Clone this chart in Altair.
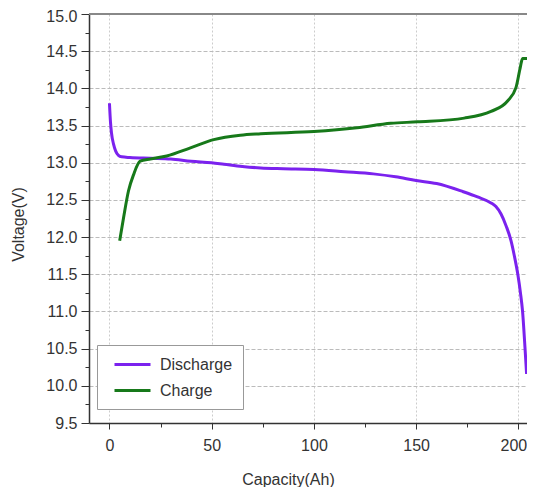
import altair as alt
import pandas as pd

# Discharge curve (Capacity Ah, Voltage V)
dis_x = [0, 0.5, 1, 2, 3, 4.4, 6, 10, 20, 30, 40, 50, 56, 65, 74, 85, 100, 115, 129,
         140, 150, 160, 173, 180, 186.6, 189, 191.5, 194, 196.4, 198, 199.7, 201, 202, 203.2, 204]
dis_y = [13.80, 13.55, 13.40, 13.25, 13.16, 13.10, 13.08, 13.07, 13.06, 13.05, 13.02, 13.00, 12.98,
         12.95, 12.93, 12.92, 12.91, 12.88, 12.85, 12.81, 12.76, 12.72, 12.61, 12.54, 12.46, 12.41,
         12.31, 12.15, 11.95, 11.75, 11.50, 11.25, 11.01, 10.52, 10.16]

# Charge curve
chg_x = [5, 6.9, 9.3, 11.8, 15, 20, 28, 39.6, 51, 64, 74, 100, 121, 137.6, 150.7, 173.5,
         186.6, 194.7, 198.8, 200.9, 202, 205.2]
chg_y = [11.95, 12.26, 12.62, 12.84, 13.02, 13.05, 13.09, 13.20, 13.31, 13.37, 13.39, 13.42,
         13.47, 13.53, 13.55, 13.60, 13.69, 13.83, 14.01, 14.28, 14.40, 14.40]

series = ["Discharge", "Charge"]
colors = ["#7B22EE", "#17791A"]

x_ticks = [0, 25, 50, 75, 100, 125, 150, 175, 200]
y_major = [9.5, 10.0, 10.5, 11.0, 11.5, 12.0, 12.5, 13.0, 13.5, 14.0, 14.5, 15.0]
y_minor = [9.75, 10.25, 10.75, 11.25, 11.75, 12.25, 12.75, 13.25, 13.75, 14.25, 14.75]

df = pd.concat([
    pd.DataFrame({"cap": dis_x, "volt": dis_y, "series": "Discharge"}),
    pd.DataFrame({"cap": chg_x, "volt": chg_y, "series": "Charge"}),
])

FONT = "Liberation Sans"

x_axis = alt.Axis(
    values=x_ticks, labelOverlap=False,
    labelExpr="datum.value % 50 == 0 ? format(datum.value, 'd') : ''",
    title="Capacity(Ah)", titleX=199, titleY=56, titleBaseline="middle",
    titleFont=FONT, titleFontSize=16, titleFontWeight="normal", titleColor="#333",
    labelFont=FONT, labelFontSize=16, labelColor="#333", labelPadding=8,
    labelOffset={"condition": {"test": "datum.value == 200", "value": -5}, "value": 0},
    tickSize={"condition": {"test": "datum.value % 50 != 0", "value": 4}, "value": 6},
    tickColor="#333", domainColor="#333", domainWidth=1.5,
    grid=True, gridColor="#cccccc", gridDash=[2, 2],
    gridOpacity={"condition": {"test": "datum.value % 50 != 0", "value": 0}, "value": 1},
)
y_axis = alt.Axis(
    values=y_major, labelOverlap=False, format=".1f", orient="left",
    title="Voltage(V)", titleX=-71, titleY=210, titleAngle=270,
    titleBaseline="middle", titleAlign="center",
    titleFont=FONT, titleFontSize=16, titleFontWeight="normal", titleColor="#333",
    labelFont=FONT, labelFontSize=16, labelColor="#333", labelPadding=4,
    labelOffset={"condition": {"test": "datum.value == 15", "value": 2}, "value": 0},
    tickSize=8, tickColor="#333", domainColor="#333", domainWidth=1.5,
    grid=True, gridColor="#bbbbbb", gridDash=[4, 2],
)
y_minor_axis = alt.Axis(
    values=y_minor, orient="left", labels=False, title=None, grid=False,
    domain=False, tickSize=4, tickColor="#333",
)

legend = alt.Legend(
    orient="none", legendX=8, legendY=331, title=None,
    symbolType="M-2.25,0H2.25", symbolSize=256, symbolStrokeWidth=3, symbolOffset=16,
    labelFont=FONT, labelFontSize=16, labelColor="#333", labelOffset=18,
    padding=10, rowPadding=8, strokeColor="#999999", fillColor="white",
)

yscale = alt.Scale(domain=[9.5, 15], nice=False, zero=False)

lines = alt.Chart(df).mark_line(strokeWidth=3, interpolate="monotone").encode(
    x=alt.X("cap:Q", scale=alt.Scale(domain=[-10, 204.2], nice=False, zero=False), axis=x_axis),
    y=alt.Y("volt:Q", scale=yscale, axis=y_axis),
    color=alt.Color("series:N", scale=alt.Scale(domain=series, range=colors), legend=legend),
    detail="series:N",
)

top = alt.Chart(pd.DataFrame({"v": [15.0]})).mark_rule(color="#888888", strokeWidth=2).encode(
    y=alt.Y("v:Q", scale=yscale, axis=y_minor_axis)
)

chart = alt.layer(lines, top).resolve_axis(y="independent").properties(
    width=438, height=409,
    autosize=alt.AutoSizeParams(type="none"),
    padding={"left": 81, "top": 6, "right": 0, "bottom": 64},
).configure_view(stroke=None)

chart.save("out.html", embed_options={"renderer": "svg", "actions": False})
